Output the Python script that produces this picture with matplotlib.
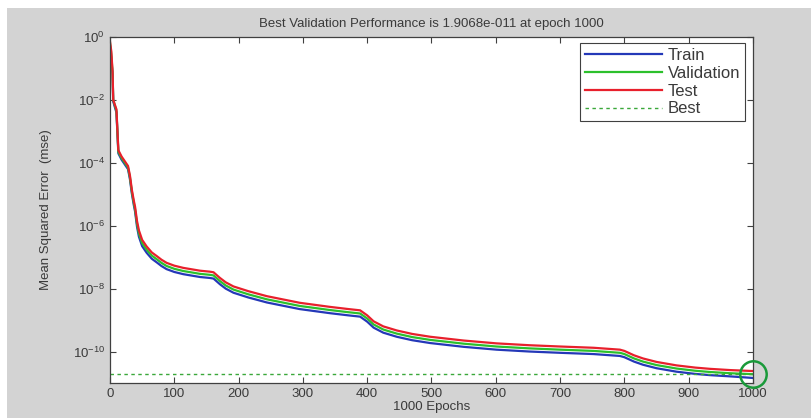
import matplotlib
matplotlib.use("Agg")
import matplotlib.pyplot as plt
import numpy as np
from matplotlib.patches import Rectangle

# ---- data (log10 of MSE) ----
epochs = [0, 2, 4, 5, 10, 13, 18, 28, 31, 34,
          37, 39, 42, 45, 50, 57, 65, 73, 80, 88,
          100, 114, 140, 155, 161, 171, 180, 192, 215, 244,
          295, 342, 371, 389, 400, 410, 425, 446, 470, 498,
          550, 601, 653, 700, 752, 793, 800, 815, 829, 850,
          881, 910, 933, 965, 1000]
test_log = [-0.15, -0.45, -1.1, -2.0, -2.3, -3.6, -3.8, -4.1, -4.4, -4.86,
            -5.2, -5.4, -5.85, -6.15, -6.45, -6.66, -6.85, -6.97, -7.08, -7.18,
            -7.27, -7.34, -7.43, -7.46, -7.48, -7.66, -7.8, -7.93, -8.08, -8.24,
            -8.45, -8.58, -8.65, -8.69, -8.85, -9.04, -9.2, -9.33, -9.44, -9.53,
            -9.65, -9.74, -9.80, -9.84, -9.88, -9.94, -9.98, -10.12, -10.22, -10.33,
            -10.44, -10.51, -10.55, -10.59, -10.62]
val_log = [-0.2, -0.55, -1.15, -2.0, -2.35, -3.65, -3.85, -4.15, -4.46, -4.92,
           -5.27, -5.48, -5.94, -6.25, -6.55, -6.76, -6.95, -7.07, -7.18, -7.28,
           -7.37, -7.44, -7.53, -7.56, -7.58, -7.76, -7.9, -8.03, -8.18, -8.34,
           -8.55, -8.68, -8.75, -8.79, -8.95, -9.14, -9.3, -9.43, -9.54, -9.63,
           -9.75, -9.84, -9.90, -9.94, -9.98, -10.04, -10.08, -10.22, -10.32, -10.43,
           -10.54, -10.61, -10.65, -10.69, -10.72]
train_log = [-0.3, -0.7, -1.2, -2.05, -2.4, -3.7, -3.9, -4.2, -4.52, -4.98,
             -5.34, -5.55, -6.03, -6.35, -6.65, -6.86, -7.05, -7.17, -7.28, -7.38,
             -7.47, -7.54, -7.63, -7.66, -7.68, -7.86, -8.0, -8.13, -8.28, -8.44,
             -8.65, -8.78, -8.85, -8.89, -9.05, -9.24, -9.4, -9.53, -9.64, -9.73,
             -9.85, -9.94, -10.00, -10.04, -10.08, -10.14, -10.18, -10.32, -10.42, -10.53,
             -10.64, -10.71, -10.75, -10.79, -10.84]
best_value = 1.9068e-11
best_epoch = 1000
x_ticks = [0, 100, 200, 300, 400, 500, 600, 700, 800, 900, 1000]
y_ticks = [1e0, 1e-2, 1e-4, 1e-6, 1e-8, 1e-10]

plt.rcParams['font.family'] = ['Liberation Sans', 'DejaVu Sans']
text_color = '#3a3a3a'

fig = plt.figure(figsize=(8.12, 4.18), dpi=100, facecolor='white')
fig.patches.append(Rectangle((7 / 812, 0), 1, (418 - 8) / 418, transform=fig.transFigure,
                             facecolor='#d3d3d3', edgecolor='none', zorder=-10))

ax = fig.add_axes([110 / 812, (418 - 383) / 418, 643 / 812, 346 / 418])
ax.set_facecolor('white')

ep = np.array(epochs)
ax.plot(ep, 10 ** np.array(train_log), color='#2438b8', lw=1.6, label='Train')
ax.plot(ep, 10 ** np.array(val_log), color='#2cc02c', lw=1.6, label='Validation')
ax.plot(ep, 10 ** np.array(test_log), color='#e8202c', lw=1.6, label='Test')
ax.plot([0, best_epoch], [best_value, best_value], color='#3aa83a', lw=1.0,
        linestyle=(0, (2.5, 2.5)), label='Best')
ax.plot([best_epoch], [best_value], marker='o', markersize=19, markerfacecolor='none',
        markeredgecolor='#1a9a3a', markeredgewidth=1.8, clip_on=False, zorder=5)

ax.set_yscale('log')
ax.set_xlim(0, 1000)
ax.set_ylim(1e-11, 1e0)
ax.set_xticks(x_ticks)
ax.set_yticks(y_ticks)
ax.yaxis.set_minor_locator(matplotlib.ticker.NullLocator())
ax.tick_params(direction='in', top=True, right=True, length=4, width=0.8,
               colors='#404040', labelcolor=text_color, labelsize=9.5)
for s in ax.spines.values():
    s.set_color('#404040')
    s.set_linewidth(0.9)

ax.set_title('Best Validation Performance is 1.9068e-011 at epoch 1000',
             fontsize=9.5, color=text_color, pad=7)
ax.set_xlabel('1000 Epochs', fontsize=9.5, color=text_color, labelpad=1)
ax.set_ylabel('Mean Squared Error  (mse)', fontsize=9.5, color=text_color, labelpad=15)

leg = ax.legend(loc='upper right', bbox_to_anchor=(0.9875, 0.983), borderaxespad=0,
                fancybox=False, framealpha=1, edgecolor='#404040', fontsize=12,
                handlelength=4.6, labelspacing=0.17, handletextpad=0.35,
                borderpad=0.3)
leg.get_frame().set_linewidth(0.8)
for t in leg.get_texts():
    t.set_color(text_color)

fig.savefig('out.png', dpi=100, facecolor=fig.get_facecolor())
